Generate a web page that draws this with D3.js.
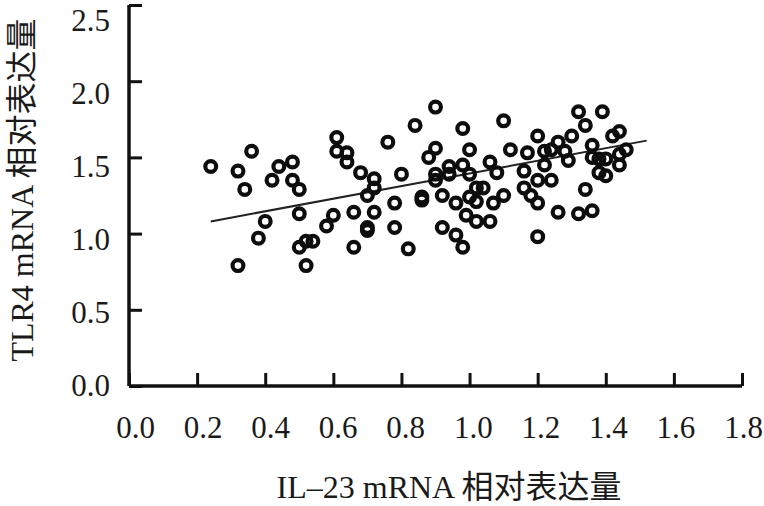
<!DOCTYPE html>
<html lang="zh">
<head>
<meta charset="UTF-8">
<title>IL-23 与 TLR4 mRNA 相关性散点图</title>
<script src="https://d3js.org/d3.v7.min.js"></script>
<style>
  html, body { margin: 0; padding: 0; background: #fff; }
  svg { display: block; }
  .tick-label { font-family: "Liberation Serif", "DejaVu Serif", serif; font-size: 31px; fill: #1a1a1a; }
  .axis-title { font-family: "Liberation Serif", "Noto Sans CJK SC", serif; font-size: 32px; fill: #1a1a1a; }
</style>
</head>
<body>
<svg id="chart" width="764" height="506"></svg>
<script>
// IL-23 mRNA (x) 与 TLR4 mRNA (y) 相对表达量，读自原图
const il23 = [
  0.24, 0.36, 0.32, 0.34, 0.44, 0.48, 0.42, 0.48, 0.50, 0.61,
  0.61, 0.64, 0.64, 0.50, 0.40, 0.38, 0.32, 0.52, 0.50, 0.52,
  0.54, 0.58, 0.60, 0.68, 0.72, 0.72, 0.70, 0.66, 0.72, 0.70,
  0.70, 0.66, 0.90, 0.84, 0.98, 0.76, 0.90, 1.00, 0.88, 0.80,
  0.90, 0.90, 0.94, 0.94, 0.98, 1.00, 0.78, 0.86, 0.86, 0.92,
  0.96, 1.00, 1.02, 0.78, 0.92, 0.96, 0.98, 0.99, 1.02, 0.82,
  1.02, 1.10, 1.32, 1.39, 1.34, 1.20, 1.30, 1.26, 1.42, 1.44,
  1.12, 1.17, 1.22, 1.24, 1.28, 1.29, 1.36, 1.36, 1.38, 1.44,
  1.46, 1.06, 1.08, 1.16, 1.22, 1.20, 1.24, 1.38, 1.40, 1.44,
  1.04, 1.10, 1.07, 1.16, 1.18, 1.20, 1.34, 1.26, 1.32, 1.36,
  1.06, 1.20, 1.40
];
const tlr4 = [
  1.44, 1.54, 1.41, 1.29, 1.44, 1.47, 1.35, 1.35, 1.29, 1.63,
  1.54, 1.53, 1.47, 1.13, 1.08, 0.97, 0.79, 0.79, 0.91, 0.95,
  0.95, 1.05, 1.12, 1.40, 1.36, 1.30, 1.25, 1.14, 1.14, 1.04,
  1.02, 0.91, 1.83, 1.71, 1.69, 1.60, 1.56, 1.55, 1.50, 1.39,
  1.39, 1.35, 1.44, 1.39, 1.45, 1.39, 1.20, 1.24, 1.22, 1.25,
  1.20, 1.24, 1.21, 1.04, 1.04, 0.99, 0.91, 1.12, 1.08, 0.90,
  1.30, 1.74, 1.80, 1.80, 1.71, 1.64, 1.64, 1.60, 1.64, 1.67,
  1.55, 1.53, 1.54, 1.55, 1.54, 1.48, 1.58, 1.50, 1.49, 1.52,
  1.55, 1.47, 1.40, 1.41, 1.45, 1.35, 1.35, 1.40, 1.38, 1.45,
  1.30, 1.25, 1.20, 1.30, 1.25, 1.20, 1.29, 1.14, 1.13, 1.15,
  1.08, 0.98, 1.49
];
// 回归线两端点
const fitX = [0.24, 1.52];
const fitY = [1.08, 1.61];
const xTicks = [0, 0.2, 0.4, 0.6, 0.8, 1.0, 1.2, 1.4, 1.6, 1.8];
const yTicks = [0, 0.5, 1.0, 1.5, 2.0, 2.5];
const xTitle = "IL–23 mRNA 相对表达量";
const yTitle = "TLR4 mRNA 相对表达量";

const svg = d3.select("#chart");

const x = d3.scaleLinear().domain([0, 1.8]).range([129, 742]);
const y = d3.scaleLinear().domain([0, 2.5]).range([386, 5]);
// 原图刻度文字与刻度线并不完全对齐，单独用一套位置
const xLab = d3.scaleLinear().domain([0, 1.8]).range([135, 743]);
const yLab = d3.scaleLinear().domain([0, 2.5]).range([395, 30]);

// 坐标轴（刻度朝内）
const xAxis = d3.axisBottom(x).tickValues(xTicks).tickSize(-13).tickFormat(d3.format(".1f"));
const yAxis = d3.axisLeft(y).tickValues(yTicks).tickSize(-13).tickFormat(d3.format(".1f"));

const gx = svg.append("g").attr("transform", `translate(0,${y(0)})`).call(xAxis);
const gy = svg.append("g").attr("transform", `translate(${x(0)},0)`).call(yAxis);

[gx, gy].forEach(g => {
  g.select(".domain").attr("stroke", "#111").attr("stroke-width", 3.5);
  g.selectAll(".tick line").attr("stroke", "#111").attr("stroke-width", 3);
  g.selectAll(".tick text").attr("class", "tick-label").attr("fill", null).attr("font-size", null).attr("font-family", null);
});
gx.select(".domain").attr("d", `M${x(0)},0H${x(1.8)}`);
gy.select(".domain").attr("d", `M0,${y(2.5)}V${y(0)}`);
gx.selectAll(".tick text").attr("y", 52).attr("dy", null).attr("dx", d => xLab(d) - x(d));
gy.selectAll(".tick text").attr("x", -19).attr("dy", null).attr("y", d => yLab(d) - y(d));

// 回归线
svg.append("line")
  .attr("x1", x(fitX[0])).attr("y1", y(fitY[0]))
  .attr("x2", x(fitX[1])).attr("y2", y(fitY[1]))
  .attr("stroke", "#222").attr("stroke-width", 2);

// 散点（空心圆）
svg.append("g").selectAll("circle")
  .data(d3.range(il23.length))
  .join("circle")
  .attr("cx", i => x(il23[i]))
  .attr("cy", i => y(tlr4[i]))
  .attr("r", 5.4)
  .attr("fill", "none")
  .attr("stroke", "#0d0d0d")
  .attr("stroke-width", 4.2);

// 轴标题
svg.append("text")
  .attr("class", "axis-title")
  .attr("x", 449).attr("y", 498)
  .attr("text-anchor", "middle")
  .text(xTitle);

svg.append("text")
  .attr("class", "axis-title")
  .attr("transform", "translate(33,190) rotate(-90)")
  .attr("text-anchor", "middle")
  .text(yTitle);
</script>
</body>
</html>
